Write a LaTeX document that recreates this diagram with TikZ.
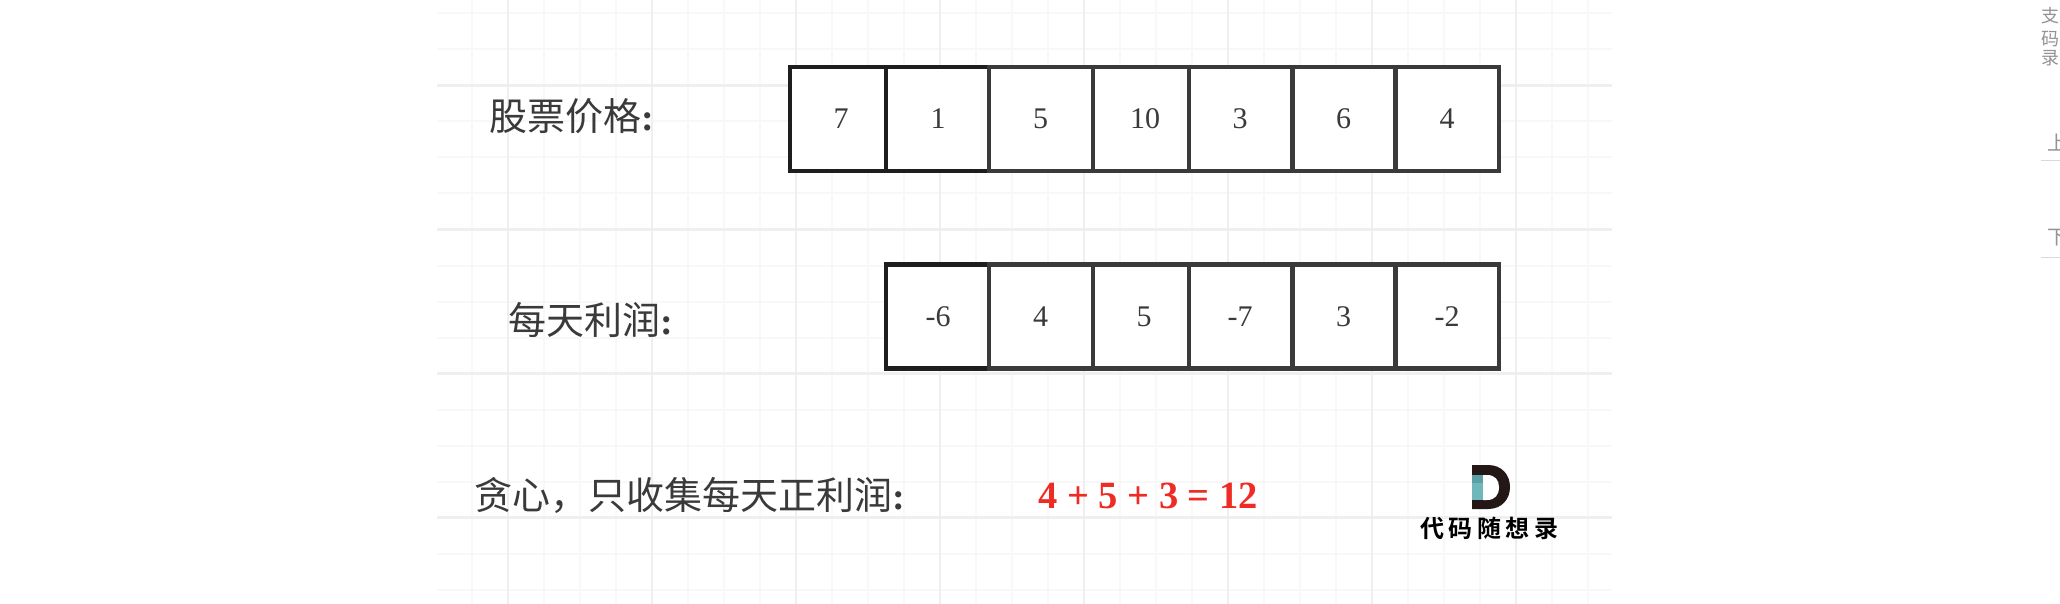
\documentclass[tikz,border=0pt]{standalone}
\usepackage{fontspec}
\setmainfont{Liberation Serif}
\newfontfamily\cjk{Noto Sans CJK SC}
\newfontfamily\cjklogo[LetterSpace=19]{Noto Sans CJK SC Bold}
\definecolor{gridminor}{HTML}{F8F8F8}
\definecolor{gridmajor}{HTML}{EFEFEF}
\definecolor{celldark}{HTML}{1E1E1E}
\definecolor{cellgray}{HTML}{3A3A3A}
\definecolor{sumred}{HTML}{EE2B24}
\definecolor{logoink}{HTML}{231815}
\definecolor{logoteal}{HTML}{6FB7BB}
\definecolor{logotealdark}{HTML}{5D9EA3}
\tikzset{
	cell/.style = {draw = cellgray, line width = 4.5pt, inner sep = 0pt, fill = white, minimum height = 104pt},
	darkcell/.style = {cell, draw = celldark},
	num/.style = {anchor = base, inner sep = 0pt, text = cellgray, font = \fontsize{30}{30}\selectfont},
	title/.style = {anchor = base west, inner sep = 0pt, text = cellgray, font = \cjk\fontsize{38}{38}\selectfont},
	side/.style = {anchor = base west, inner sep = 0pt, text = gray!85, font = \cjk\fontsize{18}{18}\selectfont},
}
\begin{document}
\begin{tikzpicture} [x = 1pt, y = -1pt]
	\useasboundingbox (0, 0) rectangle (2060, 604) ;
	\fill [white] (0, 0) rectangle (2060, 604) ;

	% grid
	\foreach \y in {13.5, 49.5, ..., 590} {
		\draw [gridminor, line width = 2pt] (437, \y) -- (1612, \y) ;
	}
	\foreach \x in {472, 508, ..., 1600} {
		\draw [gridminor, line width = 2pt] (\x, 0) -- (\x, 604) ;
	}
	\foreach \y in {85.5, 229.5, 373.5, 517.5} {
		\draw [gridmajor, line width = 2.5pt] (437, \y) -- (1612, \y) ;
	}
	\foreach \x in {508, 652, ..., 1600} {
		\draw [gridmajor, line width = 2.5pt] (\x, 0) -- (\x, 604) ;
	}

	% prices
	\foreach \n/\s/\c/\w/\tx/\t in {
		1/darkcell/838/96/841/7, 2/darkcell/937.5/103/938/1, 3/cell/1040.9/103.8/1040.5/5,
		4/cell/1141/96.2/1145/10, 5/cell/1240.6/103.3/1240/3, 6/cell/1344/103.4/1343.5/6,
		7/cell/1447.3/103.3/1447/4} {
		\node [\s, minimum width = \w pt] (price\n) at (\c, 119) {} ;
		\node [num] (priceval\n) at (\tx, 129) {\t} ;
	}

	% daily profit
	\foreach \n/\s/\c/\w/\tx/\t in {
		2/darkcell/937.5/103/938/-6, 3/cell/1040.9/103.8/1040.5/4, 4/cell/1141/96.2/1144/5,
		5/cell/1240.6/103.3/1240/-7, 6/cell/1344/103.4/1343.5/3, 7/cell/1447.3/103.3/1447/-2} {
		\node [\s, minimum width = \w pt] (profit\n) at (\c, 316.5) {} ;
		\node [num] (profitval\n) at (\tx, 326.5) {\t} ;
	}

	% labels
	\node [title] (pricelabel) at (489, 131) {股票价格{\rmfamily\bfseries :}} ;
	\node [title] (profitlabel) at (508, 334) {每天利润{\rmfamily\bfseries :}} ;
	\node [title] (greedylabel) at (474.5, 509) {贪心，只收集每天正利润{\rmfamily\bfseries :}} ;
	\node [anchor = base west, inner sep = 0pt, text = sumred, font = \bfseries\fontsize{38.5}{38.5}\selectfont]
		(sumlabel) at (1038, 508) {4 + 5 + 3 = 12} ;

	% logo
	\fill [logoink] (1472, 465) -- (1488, 465) .. controls (1502, 465) and (1510, 475) .. (1510, 487)
		.. controls (1510, 499) and (1502, 509) .. (1488, 509) -- (1472, 509) -- cycle ;
	\fill [white] (1483, 475) -- (1487, 475) .. controls (1495, 475) and (1499, 480) .. (1499, 487)
		.. controls (1499, 495) and (1495, 500) .. (1487, 500) -- (1483, 500) -- cycle ;
	\fill [logoteal] (1472, 475) rectangle (1483, 500) ;
	\fill [logotealdark] (1472, 475) rectangle (1483, 483) ;
	\node [anchor = base west, inner sep = 0pt, text = black, font = \cjklogo\fontsize{24}{24}\selectfont]
		(logotext) at (1420, 537) {代码随想录} ;

	% page edge
	\node [side] (sidea) at (2041, 23) {支} ;
	\node [side] (sideb) at (2041, 46) {码} ;
	\node [side] (sidec) at (2041, 65) {录} ;
	\node [side, font = \cjk\fontsize{20}{20}\selectfont] (sideup) at (2047, 151) {上} ;
	\node [side, font = \cjk\fontsize{20}{20}\selectfont] (sidedown) at (2047, 244) {下} ;
	\coordinate (ruleaw) at (2041, 160.7) ;
	\coordinate (ruleae) at (2060, 160.7) ;
	\coordinate (rulebw) at (2041, 257.7) ;
	\coordinate (rulebe) at (2060, 257.7) ;
	\draw [gray!30, line width = 1pt] (ruleaw) -- (ruleae) ;
	\draw [gray!30, line width = 1pt] (rulebw) -- (rulebe) ;
\end{tikzpicture}
\end{document}
